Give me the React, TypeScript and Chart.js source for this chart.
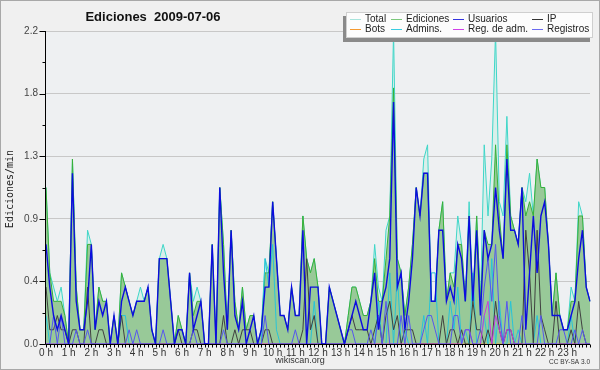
import { useEffect, useRef } from 'react';
import { Chart, registerables } from 'chart.js';
Chart.register(...registerables);

// 10-minute slots from 00:00 to 24:00
const slots: string[] = Array.from({ length: 145 }, (_, i) => {
  const h = Math.floor(i / 6);
  const m = (i % 6) * 10;
  return `${String(h).padStart(2, '0')}:${String(m).padStart(2, '0')}`;
});
const hourLabels = ['0 h','1 h','2 h','3 h','4 h','5 h','6 h','7 h','8 h','9 h','10 h','11 h','12 h','13 h','14 h','15 h','16 h','17 h','18 h','19 h','20 h','21 h','22 h','23 h'];

const yTicks = [0, 0.22, 0.44, 0.66, 0.88, 1.1, 1.32, 1.54, 1.76, 1.98, 2.2];
const yTickLabels = ['0.0', '', '0.4', '', '0.9', '', '1.3', '', '1.8', '', '2.2'];

const total = [
  1.1,0.5,0.4,0.3,0.4,0.2,0.0,1.3,0.4,0.1,
  0.1,0.8,0.7,0.1,0.4,0.3,0.3,0.0,0.2,0.0,
  0.5,0.4,0.3,0.2,0.3,0.4,0.3,0.4,0.1,0.0,
  0.6,0.7,0.6,0.3,0.0,0.2,0.1,0.0,0.5,0.3,
  0.4,0.3,0.0,0.0,0.7,0.0,1.1,0.7,0.1,0.8,
  0.3,0.1,0.4,0.1,0.2,0.2,0.0,0.1,0.6,0.5,
  1.0,0.6,0.2,0.2,0.1,0.4,0.2,0.2,0.9,0.6,
  0.5,0.6,0.4,0.0,0.0,0.4,0.3,0.2,0.1,0.0,
  0.2,0.4,0.4,0.3,0.2,0.2,0.3,0.7,0.4,0.3,
  0.8,0.9,2.2,0.6,0.5,0.2,0.4,0.7,1.1,0.9,
  1.3,1.4,0.3,0.3,0.8,1.0,0.3,0.5,0.5,0.9,
  0.7,0.3,1.0,0.3,0.9,0.3,1.4,0.9,1.3,2.2,
  1.0,0.9,1.6,0.9,0.8,0.7,1.1,1.0,1.2,0.9,
  1.3,1.1,1.1,0.7,0.2,0.5,0.2,0.1,0.1,0.4,
  0.3,1.0,0.9,0.4,0.3,
];
const ediciones = [
  1.1,0.5,0.3,0.3,0.3,0.2,0.0,1.3,0.4,0.1,
  0.1,0.7,0.7,0.1,0.4,0.3,0.3,0.0,0.2,0.0,
  0.5,0.4,0.3,0.2,0.3,0.3,0.3,0.4,0.1,0.0,
  0.6,0.6,0.6,0.3,0.0,0.2,0.1,0.0,0.5,0.2,
  0.3,0.3,0.0,0.0,0.7,0.0,1.1,0.7,0.1,0.8,
  0.3,0.1,0.4,0.1,0.2,0.2,0.0,0.1,0.5,0.5,
  1.0,0.6,0.2,0.2,0.1,0.4,0.2,0.2,0.9,0.6,
  0.5,0.6,0.4,0.0,0.0,0.4,0.3,0.2,0.1,0.0,
  0.2,0.4,0.4,0.3,0.2,0.2,0.3,0.6,0.3,0.3,
  0.6,0.9,1.8,0.6,0.5,0.2,0.4,0.7,1.1,0.9,
  1.2,1.2,0.3,0.3,0.8,1.0,0.3,0.5,0.4,0.7,
  0.7,0.3,0.9,0.3,0.9,0.3,0.8,0.7,0.7,1.4,
  0.9,0.6,1.4,0.9,0.8,0.7,1.1,0.9,1.0,0.9,
  1.3,1.1,1.1,0.7,0.2,0.5,0.2,0.1,0.1,0.3,
  0.3,0.9,0.9,0.4,0.3,
];
const usuarios = [
  0.7,0.4,0.2,0.1,0.2,0.1,0.0,1.2,0.3,0.1,
  0.1,0.3,0.7,0.1,0.3,0.2,0.3,0.0,0.2,0.0,
  0.3,0.4,0.3,0.2,0.3,0.3,0.3,0.4,0.1,0.0,
  0.6,0.6,0.6,0.3,0.0,0.1,0.1,0.0,0.5,0.1,
  0.2,0.3,0.0,0.0,0.7,0.0,1.1,0.5,0.1,0.8,
  0.2,0.1,0.3,0.0,0.1,0.2,0.0,0.1,0.4,0.4,
  1.0,0.6,0.2,0.2,0.1,0.4,0.2,0.2,0.8,0.0,
  0.4,0.4,0.4,0.0,0.0,0.4,0.3,0.2,0.1,0.0,
  0.1,0.2,0.3,0.2,0.1,0.1,0.3,0.5,0.1,0.3,
  0.4,0.6,1.7,0.4,0.5,0.1,0.3,0.6,1.1,0.9,
  1.2,1.2,0.3,0.3,0.8,0.8,0.3,0.4,0.3,0.7,
  0.6,0.3,0.9,0.3,0.8,0.2,0.8,0.6,0.7,1.1,
  0.8,0.6,1.3,0.8,0.8,0.7,1.1,0.1,0.5,0.9,
  0.5,0.9,1.0,0.7,0.2,0.2,0.2,0.1,0.1,0.2,
  0.3,0.6,0.8,0.4,0.3,
];
const ip = [
  0.4,0.1,0.1,0.2,0.1,0.1,0.0,0.1,0.1,0.0,
  0.0,0.4,0.0,0.0,0.1,0.1,0.0,0.0,0.0,0.0,
  0.2,0.0,0.0,0.0,0.0,0.0,0.0,0.0,0.0,0.0,
  0.0,0.0,0.0,0.0,0.0,0.1,0.0,0.0,0.0,0.1,
  0.1,0.0,0.0,0.0,0.0,0.0,0.0,0.2,0.0,0.0,
  0.1,0.0,0.1,0.1,0.1,0.0,0.0,0.0,0.1,0.1,
  0.0,0.0,0.0,0.0,0.0,0.0,0.0,0.0,0.1,0.6,
  0.1,0.2,0.0,0.0,0.0,0.0,0.0,0.0,0.0,0.0,
  0.1,0.2,0.1,0.1,0.1,0.1,0.0,0.1,0.2,0.0,
  0.2,0.3,0.1,0.2,0.0,0.1,0.1,0.1,0.0,0.0,
  0.0,0.0,0.0,0.0,0.0,0.2,0.0,0.1,0.1,0.0,
  0.1,0.0,0.0,0.3,0.1,0.1,0.0,0.1,0.0,0.3,
  0.1,0.0,0.1,0.1,0.0,0.0,0.0,0.8,0.5,0.0,
  0.8,0.2,0.1,0.0,0.0,0.3,0.0,0.0,0.0,0.1,
  0.0,0.3,0.1,0.0,0.0,
];
const bots = [
  0,0,0,0,0,0,0,0,0,0, 0,0,0,0,0,0,0,0,0,0, 0,0,0,0,0,0,0,0,0,0,
  0,0,0,0,0,0,0,0,0,0, 0,0,0,0,0,0,0,0,0,0, 0,0,0,0,0,0,0,0,0,0,
  0,0,0,0,0,0,0,0,0,0, 0,0,0,0,0,0,0,0,0,0, 0,0,0,0,0,0,0,0,0,0,
  0,0,0,0,0,0,0,0,0,0, 0,0,0,0,0,0,0,0,0,0, 0,0,0,0,0,0,0,0,0,0,
  0,0,0,0,0,0,0,0,0,0, 0,0,0,0,0,0,0,0,0,0, 0,0,0,0,0,
];
const admins = [
  0.2,0.0,0.0,0.0,0.0,0.0,0.0,0.0,0.0,0.0,
  0.0,0.0,0.0,0.0,0.0,0.0,0.0,0.0,0.0,0.0,
  0.2,0.2,0.0,0.0,0.0,0.0,0.0,0.0,0.0,0.0,
  0.0,0.0,0.0,0.0,0.0,0.0,0.0,0.0,0.0,0.0,
  0.0,0.0,0.0,0.0,0.0,0.0,0.0,0.0,0.0,0.0,
  0.0,0.0,0.0,0.0,0.0,0.0,0.0,0.0,0.6,0.4,
  0.7,0.1,0.0,0.0,0.0,0.0,0.0,0.0,0.0,0.0,
  0.0,0.3,0.0,0.0,0.0,0.0,0.0,0.0,0.0,0.0,
  0.0,0.0,0.0,0.0,0.0,0.0,0.0,0.0,0.3,0.0,
  0.0,0.5,0.0,0.5,0.0,0.1,0.0,0.0,0.0,0.0,
  0.2,0.0,0.5,0.5,0.0,0.0,0.0,0.3,0.1,0.4,
  0.0,0.1,0.0,0.5,0.0,0.0,0.2,0.0,0.6,0.0,
  0.3,0.0,0.0,0.3,0.0,0.1,0.0,0.0,0.0,0.0,
  0.2,0.0,0.0,0.0,0.0,0.0,0.0,0.0,0.0,0.2,
  0.0,0.0,0.0,0.0,0.0,
];
const regAdm = [
  0,0,0,0,0,0,0,0,0,0, 0,0,0,0,0,0,0,0,0,0, 0,0,0,0,0,0,0,0,0,0,
  0,0,0,0,0,0,0,0,0,0, 0,0,0,0,0,0,0,0,0,0, 0,0,0,0,0,0,0,0,0,0,
  0,0,0,0,0,0,0,0,0,0, 0,0,0,0,0,0,0,0,0,0, 0,0,0,0,0,0,0,0,0,0,
  0,0,0,0,0,0,0,0,0,0, 0,0,0,0,0,0,0,0,0,0,
  0,0.1,0.1,0,0,0,0.2,0.3,0,0.2,
  0.1,0,0.1,0.1,0,0,0,0,0,0,
  0,0,0,0,0,0,0,0,0,0, 0,0,0,0,0,
];
const registros = [
  0.0,0.0,0.2,0.0,0.2,0.0,0.0,0.0,0.1,0.0,
  0.0,0.1,0.0,0.0,0.0,0.0,0.0,0.0,0.0,0.0,
  0.0,0.0,0.1,0.0,0.1,0.0,0.0,0.0,0.0,0.0,
  0.0,0.1,0.0,0.0,0.0,0.0,0.0,0.0,0.0,0.1,
  0.0,0.0,0.0,0.0,0.0,0.0,0.0,0.1,0.0,0.0,
  0.0,0.0,0.0,0.0,0.0,0.0,0.0,0.0,0.2,0.0,
  0.0,0.0,0.0,0.0,0.0,0.0,0.1,0.0,0.0,0.0,
  0.0,0.0,0.0,0.0,0.0,0.0,0.0,0.0,0.0,0.0,
  0.1,0.1,0.0,0.0,0.0,0.0,0.1,0.0,0.2,0.0,
  0.3,0.0,0.0,0.0,0.2,0.0,0.2,0.0,0.0,0.0,
  0.1,0.2,0.2,0.1,0.0,0.0,0.0,0.0,0.2,0.2,
  0.0,0.1,0.1,0.0,0.0,0.1,0.4,0.6,0.3,0.7,
  0.2,0.0,0.3,0.0,0.0,0.0,0.2,0.0,0.0,0.0,
  0.0,0.2,0.0,0.0,0.0,0.0,0.1,0.1,0.0,0.0,
  0.1,0.0,0.1,0.0,0.0,
];

const legendItems = [
  { label: 'Total', color: '#a8e4dc' },
  { label: 'Ediciones', color: '#7cc87c' },
  { label: 'Usuarios', color: '#3434e0' },
  { label: 'IP', color: '#333333' },
  { label: 'Bots', color: '#f59a30' },
  { label: 'Admins.', color: '#38cce0' },
  { label: 'Reg. de adm.', color: '#d040e8' },
  { label: 'Registros', color: '#6a6af0' },
];

const SANS = '"Liberation Sans", Arial, sans-serif';

const decor = {
  id: 'decor',
  beforeDraw(chart: any) {
    const { ctx, chartArea: a } = chart;
    ctx.save();
    ctx.fillStyle = '#f0f0f0';
    ctx.fillRect(0, 0, chart.width, chart.height);
    ctx.fillStyle = '#eef0f2';
    ctx.fillRect(a.left, a.top, a.right - a.left, a.bottom - a.top);
    ctx.restore();
  },
  afterDatasetsDraw(chart: any) {
    const { ctx, chartArea: a } = chart;
    const xs = chart.scales.x;
    const ys = chart.scales.y;
    ctx.save();
    ctx.strokeStyle = '#000';
    ctx.lineWidth = 1;
    ctx.beginPath();
    const ax = Math.round(a.left) - 0.5;
    const ay = Math.round(a.bottom) + 0.5;
    ctx.moveTo(ax, a.top);
    ctx.lineTo(ax, ay);
    ctx.lineTo(a.right, ay);
    yTicks.forEach((v, i) => {
      const y = Math.round(ys.getPixelForValue(v)) + 0.5;
      ctx.moveTo(ax - (i % 2 === 0 ? 6 : 3), y);
      ctx.lineTo(ax, y);
    });
    slots.forEach((_, i) => {
      const x = Math.round(xs.getPixelForValue(i)) + 0.5;
      ctx.moveTo(x, ay);
      ctx.lineTo(x, ay + 3);
    });
    ctx.stroke();
    ctx.restore();
  },
  afterDraw(chart: any) {
    const { ctx } = chart;
    ctx.save();
    // title
    ctx.fillStyle = '#111';
    ctx.font = `bold 13px ${SANS}`;
    ctx.textAlign = 'center';
    ctx.textBaseline = 'middle';
    ctx.fillText('Ediciones  2009-07-06', 153, 17);
    // y title
    ctx.save();
    ctx.translate(10, 189);
    ctx.rotate(-Math.PI / 2);
    ctx.font = '10px "DejaVu Sans Mono", monospace';
    ctx.fillStyle = '#222';
    ctx.fillText('Ediciones/min', 0, 0);
    ctx.restore();
    // footer
    ctx.font = `9px ${SANS}`;
    ctx.fillStyle = '#333';
    ctx.fillText('wikiscan.org', 300, 361);
    ctx.font = `6.5px ${SANS}`;
    ctx.textAlign = 'right';
    ctx.fillText('CC BY-SA 3.0', 590, 362);
    // legend
    ctx.fillStyle = '#8a8a8a';
    ctx.fillRect(343, 16, 247, 26);
    ctx.fillStyle = '#fcfcfc';
    ctx.fillRect(346, 12, 247, 26);
    ctx.strokeStyle = '#cfcfcf';
    ctx.lineWidth = 1;
    ctx.strokeRect(346.5, 12.5, 246, 25);
    const colX = [350, 391, 453, 532];
    const rowY = [19, 29];
    ctx.font = `10px ${SANS}`;
    ctx.textAlign = 'left';
    ctx.textBaseline = 'middle';
    legendItems.forEach((it, i) => {
      const cx = colX[i % 4];
      const cy = rowY[Math.floor(i / 4)];
      ctx.strokeStyle = it.color;
      ctx.beginPath();
      ctx.moveTo(cx, cy + 0.5);
      ctx.lineTo(cx + 11, cy + 0.5);
      ctx.stroke();
      ctx.fillStyle = '#222';
      ctx.fillText(it.label, cx + 15, cy + 0.5);
    });
    // outer border
    ctx.strokeStyle = '#a8a8a8';
    ctx.strokeRect(0.5, 0.5, chart.width - 1, chart.height - 1);
    ctx.restore();
  },
};

export default function App() {
  const ref = useRef<HTMLCanvasElement | null>(null);
  useEffect(() => {
    document.body.style.margin = '0';
    if (!ref.current) return;
    const line = (label: string, data: number[], color: string, order: number, extra: any = {}) => ({
      label, data, borderColor: color, borderWidth: 1, pointRadius: 0, tension: 0, fill: false, order, ...extra,
    });
    const chart = new Chart(ref.current, {
      type: 'line',
      data: {
        labels: slots,
        datasets: [
          line('Total', total, '#3fd6c8', 9, { fill: 'origin', backgroundColor: '#d9efea' }),
          line('Ediciones', ediciones, '#38b038', 8, { fill: 'origin', backgroundColor: '#98c998' }),
          line('Usuarios', usuarios, '#0c0ce0', 0, { borderWidth: 1.4 }),
          line('IP', ip, '#404040', 3),
          line('Bots', bots, '#f0a040', 6),
          line('Admins.', admins, '#28c4d8', 4),
          line('Reg. de adm.', regAdm, '#c83cdc', 2),
          line('Registros', registros, '#5656ee', 1),
        ],
      },
      options: {
        responsive: false,
        animation: false,
        devicePixelRatio: 1,
        layout: { padding: { top: 31, right: 10, left: 0, bottom: 0 } },
        plugins: { legend: { display: false }, tooltip: { enabled: false }, title: { display: false } },
        scales: {
          x: {
            type: 'category',
            offset: false,
            afterFit: (s: any) => { s.height = 26; },
            grid: { display: false, drawTicks: false },
            border: { display: false },
            ticks: {
              autoSkip: false,
              maxRotation: 0,
              minRotation: 0,
              padding: 3,
              color: '#333',
              font: { family: SANS, size: 10 },
              callback: (_v: any, i: number) => (i % 6 === 0 && i < 144 ? hourLabels[i / 6] : ''),
            },
          },
          y: {
            min: 0,
            max: 2.2,
            afterFit: (s: any) => { s.width = 46; },
            afterBuildTicks: (s: any) => { s.ticks = yTicks.map((v) => ({ value: v })); },
            grid: {
              drawTicks: false,
              color: (c: any) => (c.index % 2 === 0 && c.index > 0 ? '#c8c8c8' : 'rgba(0,0,0,0)'),
            },
            border: { display: false },
            ticks: {
              padding: 8,
              color: '#444',
              font: { family: SANS, size: 10 },
              callback: (_v: any, i: number) => yTickLabels[i],
            },
          },
        },
      },
      plugins: [decor],
    });
    return () => chart.destroy();
  }, []);
  return <canvas ref={ref} width={600} height={370} style={{ display: 'block', width: 600, height: 370 }} />;
}
